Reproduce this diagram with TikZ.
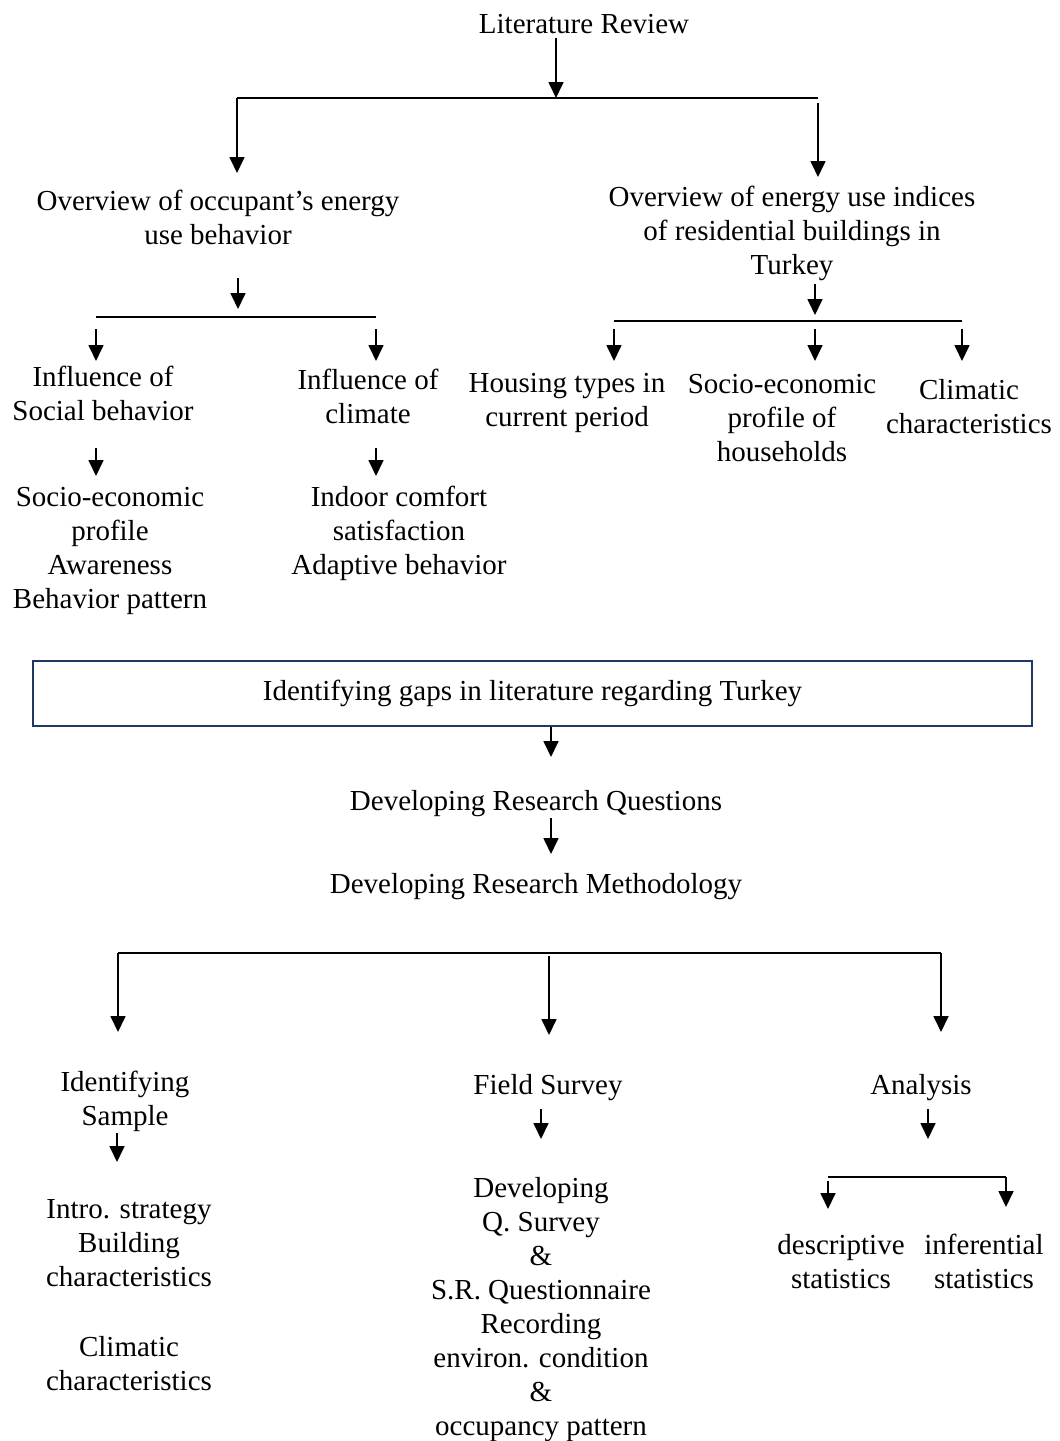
\documentclass[tikz,border=0pt]{standalone}
\usepackage{fontspec}
\setmainfont{Liberation Serif}
\usetikzlibrary{arrows.meta}
\definecolor{boxnavy}{RGB}{31,56,100}
\begin{document}
\begin{tikzpicture}[x=1pt,y=-1pt,
  txt/.style={align=center, inner sep=0pt, anchor=north, font=\fontsize{29}{34}\selectfont, execute at begin node=\strut},
  arr/.style={line width=1.7pt, -{Triangle[width=15pt,length=16pt]}},
  bar/.style={line width=1.7pt}]
\useasboundingbox (0,0) rectangle (1060,1441);
% text nodes: anchor north = first baseline - shift
\def\sh{23.8}
\def\sm{19.8}

% top level
\node[txt] (lit) at (584,33-\sh) {Literature Review};
\coordinate (a0s) at (556,38);
\coordinate (b0m) at (556,98);
\coordinate (b0l) at (237,98);
\coordinate (b0r) at (818,98);
\coordinate (b0rs) at (818,103);
\coordinate (ov1t) at (237,173);
\coordinate (ov2t) at (818,177);
\draw[arr] (a0s) -- (b0m);
\draw[bar] (b0l) -- (b0r);
\draw[arr] (b0l) -- (ov1t);
\draw[arr] (b0rs) -- (ov2t);

\node[txt] (ov1) at (218,210-\sm) {Overview of occupant’s energy\\use behavior};
\node[txt] (ov2) at (792,206-\sm) {Overview of energy use indices\\of residential buildings in\\Turkey};

% left branch
\coordinate (a1s) at (238,278);
\coordinate (b1m) at (238,309);
\coordinate (b1l) at (96,317);
\coordinate (b1r) at (376,317);
\draw[arr] (a1s) -- (b1m);
\draw[bar] (b1l) -- (b1r);
\coordinate (s1s) at (96,329);
\coordinate (s1e) at (96,361);
\coordinate (s2s) at (376,329);
\coordinate (s2e) at (376,361);
\draw[arr] (s1s) -- (s1e);
\draw[arr] (s2s) -- (s2e);

\node[txt] (soc) at (103,386-\sm) {Influence of\\Social behavior};
\node[txt] (cli) at (368,389-\sm) {Influence of\\climate};

\coordinate (s3s) at (96,448);
\coordinate (s3e) at (96,476);
\coordinate (s4s) at (376,448);
\coordinate (s4e) at (376,476);
\draw[arr] (s3s) -- (s3e);
\draw[arr] (s4s) -- (s4e);

\node[txt] (socl) at (110,507-\sm) {Socio-economic\\profile\\Awareness\\Behavior pattern};
\node[txt] (clil) at (399,506-\sm) {Indoor comfort\\satisfaction\\Adaptive behavior};

% right branch
\coordinate (a2s) at (815,284);
\coordinate (b2m) at (815,315);
\coordinate (b2l) at (614,321);
\coordinate (b2r) at (962,321);
\draw[arr] (a2s) -- (b2m);
\draw[bar] (b2l) -- (b2r);
\coordinate (r1s) at (614,329);
\coordinate (r1e) at (614,361);
\coordinate (r2s) at (815,329);
\coordinate (r2e) at (815,361);
\coordinate (r3s) at (962,329);
\coordinate (r3e) at (962,361);
\draw[arr] (r1s) -- (r1e);
\draw[arr] (r2s) -- (r2e);
\draw[arr] (r3s) -- (r3e);

\node[txt] (hou) at (567,393-\sm) {Housing types in\\current period};
\node[txt] (seh) at (782,394-\sm) {Socio-economic\\profile of\\households};
\node[txt] (clc) at (969,399-\sm) {Climatic\\characteristics};

% gaps box
\node[align=center, inner sep=0pt, font=\fontsize{29}{34}\selectfont, draw=boxnavy, line width=2.4pt, minimum width=999pt, minimum height=65pt] (gap) at (532.5,693.5) {Identifying gaps in literature regarding Turkey};

\coordinate (q1e) at (551,757);
\draw[arr] (gap.south -| q1e) -- (q1e);
\node[txt] (rq) at (536,810-\sh) {Developing Research Questions};
\coordinate (q2s) at (551,818);
\coordinate (q2e) at (551,854);
\draw[arr] (q2s) -- (q2e);
\node[txt] (rm) at (536,893-\sh) {Developing Research Methodology};

% methodology branch
\coordinate (b3l) at (118,953);
\coordinate (b3r) at (941,953);
\coordinate (m1e) at (118,1032);
\coordinate (m2s) at (549,956);
\coordinate (m2e) at (549,1035);
\coordinate (m3e) at (941,1032);
\draw[bar] (b3l) -- (b3r);
\draw[arr] (b3l) -- (m1e);
\draw[arr] (m2s) -- (m2e);
\draw[arr] (b3r) -- (m3e);

\node[txt] (ids) at (125,1091-\sm) {Identifying\\Sample};
\node[txt] (fs) at (548,1094-\sh) {Field Survey};
\node[txt] (an) at (921,1094-\sh) {Analysis};

\coordinate (n1s) at (117,1133);
\coordinate (n1e) at (117,1162);
\coordinate (n2s) at (541,1109);
\coordinate (n2e) at (541,1139);
\coordinate (n3s) at (928,1109);
\coordinate (n3e) at (928,1139);
\draw[arr] (n1s) -- (n1e);
\draw[arr] (n2s) -- (n2e);
\draw[arr] (n3s) -- (n3e);

\node[txt] (idl) at (129,1219-\sm) {Intro. strategy\\Building\\characteristics\\[36pt]Climatic\\characteristics};
\node[txt] (fsl) at (541,1197-\sm) {Developing\\Q. Survey\\\&\\S.R. Questionnaire\\Recording\\environ. condition\\\&\\occupancy pattern};

% analysis branch
\coordinate (b4l) at (828,1177);
\coordinate (b4r) at (1006,1177);
\coordinate (d1s) at (828,1181);
\coordinate (d1e) at (828,1209);
\coordinate (d2e) at (1006,1207);
\draw[bar] (b4l) -- (b4r);
\draw[arr] (d1s) -- (d1e);
\draw[arr] (b4r) -- (d2e);

\node[txt] (des) at (841,1254-\sm) {descriptive\\statistics};
\node[txt] (inf) at (984,1254-\sm) {inferential\\statistics};
\end{tikzpicture}
\end{document}
